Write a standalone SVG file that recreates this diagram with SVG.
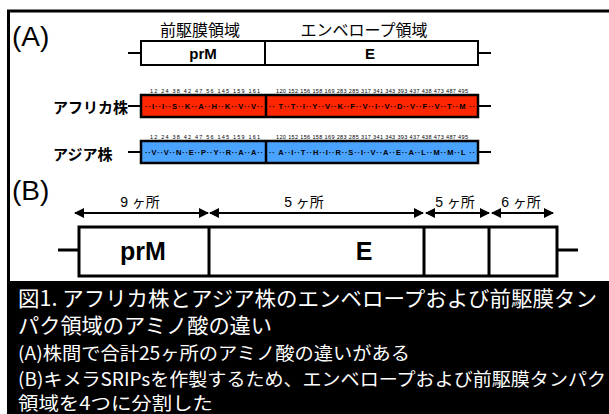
<svg xmlns="http://www.w3.org/2000/svg" width="609" height="414" viewBox="0 0 609 414">
<defs>
<style>
.ln{stroke:#000;stroke-width:2;fill:none}
.box{stroke:#000;stroke-width:2;fill:#fff}
.bar{stroke:#000;stroke-width:2.5}
.jp{font-family:"Liberation Sans","Noto Sans CJK JP",sans-serif;fill:#000}
.big{font-family:"Liberation Sans",sans-serif;font-size:28px;fill:#000}
.num{font-family:"Liberation Sans",sans-serif;font-size:5.5px;fill:#000}
.seq{font-family:"Liberation Sans",sans-serif;font-size:7.5px;font-weight:bold;fill:#000}
.cap{font-family:"Noto Sans CJK JP",sans-serif;fill:#fff}
</style>
<marker id="ah" viewBox="0 0 10 10" refX="9" refY="5" markerWidth="5" markerHeight="5" orient="auto-start-reverse">
<path d="M0,0 L10,5 L0,10 z" fill="#000"/>
</marker>
</defs>
<rect x="0" y="0" width="609" height="414" fill="#fff"/>
<!-- frame -->
<path d="M8.5,414 V11 H609" stroke="#000" stroke-width="3" fill="none"/>
<rect x="7" y="281" width="602" height="133" fill="#000"/>

<text class="big" x="12" y="46">(A)</text>
<text class="big" x="12" y="200">(B)</text>

<g id="connectors">
<line class="ln" x1="128" y1="53" x2="141" y2="53"/>
<line class="ln" x1="478" y1="53" x2="491" y2="53"/>
<line class="ln" x1="128" y1="106" x2="141" y2="106"/>
<line class="ln" x1="478" y1="106" x2="491" y2="106"/>
<line class="ln" x1="128" y1="152" x2="141" y2="152"/>
<line class="ln" x1="478" y1="152" x2="491" y2="152"/>
<line x1="58" y1="250" x2="79" y2="250" stroke="#000" stroke-width="3"/>
<line x1="557" y1="250" x2="578" y2="250" stroke="#000" stroke-width="3"/>
<line class="ln" x1="75" y1="213" x2="208" y2="213" marker-start="url(#ah)" marker-end="url(#ah)"/>
<line class="ln" x1="210" y1="213" x2="423" y2="213" marker-start="url(#ah)" marker-end="url(#ah)"/>
<line class="ln" x1="426" y1="213" x2="489" y2="213" marker-start="url(#ah)" marker-end="url(#ah)"/>
<line class="ln" x1="492" y1="213" x2="553" y2="213" marker-start="url(#ah)" marker-end="url(#ah)"/>
</g>

<g id="regionA">
<text class="jp" x="200" y="36" font-size="16" text-anchor="middle">前駆膜領域</text>
<text class="jp" x="364" y="36" font-size="16" text-anchor="middle">エンベロープ領域</text>
<rect class="box" x="141" y="41" width="337" height="24"/>
<line class="ln" x1="265" y1="41" x2="265" y2="65"/>
<text class="jp" x="203" y="59" font-size="15" font-weight="bold" text-anchor="middle">prM</text>
<text class="jp" x="370" y="59" font-size="15" font-weight="bold" text-anchor="middle">E</text>
</g>

<g id="african">
<text class="jp" x="53" y="113" font-size="15" font-weight="bold">アフリカ株</text>
<text class="num" x="150" y="93" textLength="110" lengthAdjust="spacing">12 24 38 42 47 56 145 159 161</text>
<text class="num" x="276" y="93" textLength="192" lengthAdjust="spacing">120 152 156 158 169 283 285 317 341 343 393 437 438 473 487 495</text>
<rect class="bar" x="141" y="95" width="337" height="22" fill="#ff2600"/>
<line class="bar" x1="266" y1="95" x2="266" y2="117"/>
<text class="seq" x="145" y="109" textLength="118" lengthAdjust="spacing">··I··I··S··K··A··H··K··V··V··</text>
<text class="seq" x="269" y="109" textLength="206" lengthAdjust="spacing">·· T··T··I··Y··V··K··F··V··I··V··D··V··F··V··T··M ··</text>
</g>

<g id="asian">
<text class="jp" x="53" y="160" font-size="15" font-weight="bold">アジア株</text>
<text class="num" x="150" y="139" textLength="110" lengthAdjust="spacing">12 24 38 42 47 56 145 159 161</text>
<text class="num" x="276" y="139" textLength="192" lengthAdjust="spacing">120 152 156 158 169 283 285 317 341 343 393 437 438 473 487 495</text>
<rect class="bar" x="141" y="141" width="337" height="22" fill="#4aa3ff"/>
<line class="bar" x1="266" y1="141" x2="266" y2="163"/>
<text class="seq" x="145" y="155" textLength="118" lengthAdjust="spacing">··V··V··N··E··P··Y··R··A··A··</text>
<text class="seq" x="269" y="155" textLength="206" lengthAdjust="spacing">·· A··I··T··H··I··R··S··I··V··A··E··A··L··M··M··L ··</text>
</g>

<g id="regionB">
<text class="jp" x="140" y="207" font-size="14" text-anchor="middle">9 ヶ所</text>
<text class="jp" x="304" y="207" font-size="14" text-anchor="middle">5 ヶ所</text>
<text class="jp" x="455" y="207" font-size="14" text-anchor="middle">5 ヶ所</text>
<text class="jp" x="521" y="207" font-size="14" text-anchor="middle">6 ヶ所</text>
<rect x="79" y="227" width="478" height="49" fill="#fff" stroke="#000" stroke-width="3"/>
<line x1="209" y1="227" x2="209" y2="276" stroke="#000" stroke-width="3"/>
<line x1="424" y1="227" x2="424" y2="276" stroke="#000" stroke-width="3"/>
<line x1="489" y1="227" x2="489" y2="276" stroke="#000" stroke-width="3"/>
<text class="jp" x="143" y="260" font-size="25" font-weight="bold" text-anchor="middle">prM</text>
<text class="jp" x="364" y="260" font-size="25" font-weight="bold" text-anchor="middle">E</text>
</g>

<g id="caption">
<text class="cap" x="18" y="306" font-size="21" textLength="579" lengthAdjust="spacingAndGlyphs">図1. アフリカ株とアジア株のエンベロープおよび前駆膜タン</text>
<text class="cap" x="18" y="333" font-size="21" textLength="254" lengthAdjust="spacingAndGlyphs">パク領域のアミノ酸の違い</text>
<text class="cap" x="18" y="360" font-size="18" textLength="392" lengthAdjust="spacingAndGlyphs">(A)株間で合計25ヶ所のアミノ酸の違いがある</text>
<text class="cap" x="18" y="386" font-size="18" textLength="588" lengthAdjust="spacingAndGlyphs">(B)キメラSRIPsを作製するため、エンベロープおよび前駆膜タンパク</text>
<text class="cap" x="18" y="410" font-size="18" textLength="195" lengthAdjust="spacingAndGlyphs">領域を4つに分割した</text>
</g>
</svg>
